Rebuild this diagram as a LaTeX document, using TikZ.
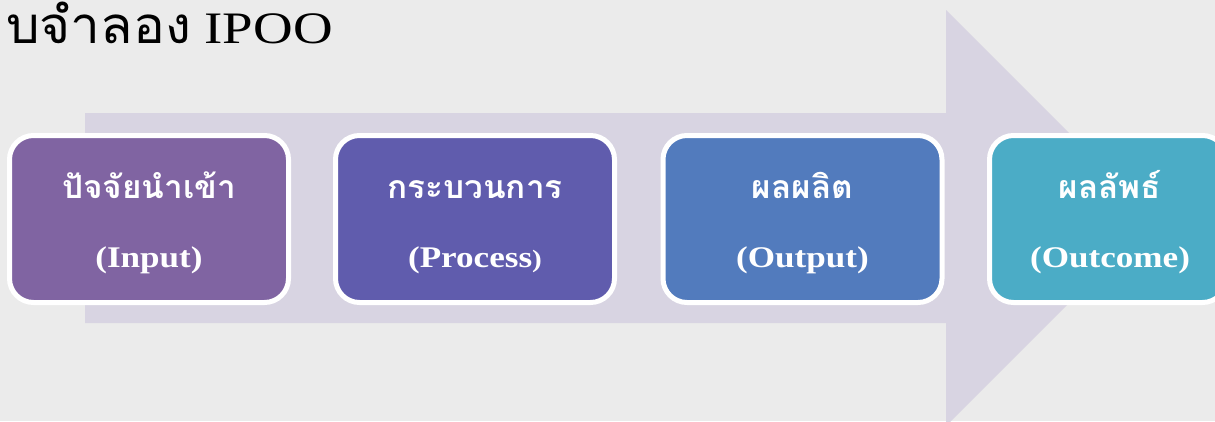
\documentclass[tikz,border=0pt]{standalone}
\usepackage{fontspec}
\setmainfont{Liberation Serif}
\newfontfamily\thaifont[Script=Thai, FakeStretch=1.04]{Loma}
\newfontfamily\latfont[FakeStretch=1.22]{Liberation Serif}
\newfontfamily\latbold[FakeStretch=1.17, UprightFont=*-Bold]{LiberationSerif}
\definecolor{bg}{HTML}{EBEBEB}
\definecolor{arrowc}{HTML}{D8D4E2}
\definecolor{c1}{HTML}{8064A2}
\definecolor{c2}{HTML}{605CAD}
\definecolor{c3}{HTML}{527BBD}
\definecolor{c4}{HTML}{4BACC6}
\tikzset{
  box/.style={draw=white, line width=5pt, rounded corners=24pt, minimum width=279pt,
    minimum height=167pt, inner sep=0pt},
  thtext/.style={anchor=base, inner sep=0pt, text=white, font=\thaifont\bfseries\fontsize{32}{36}\selectfont},
  lttext/.style={anchor=base, inner sep=0pt, text=white, font=\latbold\fontsize{30}{34}\selectfont},
}
\begin{document}
\begin{tikzpicture}[x=1pt,y=-1pt]
\useasboundingbox (0,0) rectangle (1215,421);
\clip (0,0) rectangle (1215,421);
\fill[bg] (0,0) rectangle (1215,421);
\fill[arrowc] (85,113) -- (946,113) -- (946,10) -- (1154,218) -- (946,426) -- (946,323) -- (85,323) -- cycle;
\node[anchor=base west, inner sep=0pt] (title) at (6,43)
  {{\thaifont\fontsize{51}{56}\selectfont บจำลอง}{\latfont\fontsize{45}{50}\selectfont\ IPOO}};
\node[box, fill=c1] (b1) at (149,219) {};
\node[box, fill=c2] (b2) at (475,219) {};
\node[box, fill=c3] (b3) at (802.5,219) {};
\node[box, fill=c4, minimum width=237pt] (b4) at (1108,219) {};
\node[thtext] (t1) at (149,198) {ปัจจัยนำเข้า};
\node[lttext] (l1) at (149,267) {(Input)};
\node[thtext] (t2) at (475,198) {กระบวนการ};
\node[lttext] (l2) at (475,267) {(Process{\fontsize{25}{30}\selectfont)}};
\node[thtext] (t3) at (802.5,198) {ผลผลิต};
\node[lttext] (l3) at (802.5,267) {(Output)};
\node[thtext] (t4) at (1110,198) {ผลลัพธ์};
\node[lttext] (l4) at (1110,267) {(Outcome)};
\end{tikzpicture}
\end{document}
